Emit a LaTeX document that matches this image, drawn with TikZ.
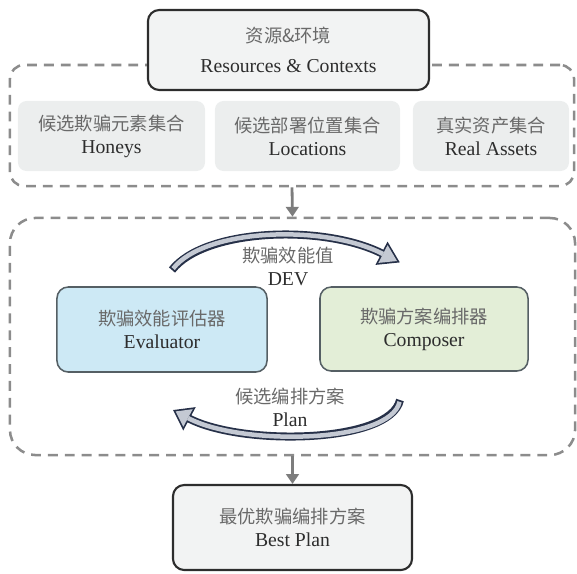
\documentclass[tikz,border=0pt]{standalone}
\usepackage{fontspec}
\setmainfont{Liberation Serif}
\newfontfamily\cjkfont{Noto Sans CJK SC}
\usetikzlibrary{positioning, arrows.meta}
\definecolor{boxline}{RGB}{45,45,45}
\definecolor{boxgray}{RGB}{242,243,243}
\definecolor{setgray}{RGB}{236,238,238}
\definecolor{modline}{RGB}{85,95,100}
\definecolor{evalblue}{RGB}{205,233,245}
\definecolor{compgreen}{RGB}{227,238,215}
\definecolor{grpgray}{RGB}{140,140,140}
\definecolor{flowgray}{RGB}{125,125,125}
\definecolor{fatdark}{RGB}{38,48,72}
\definecolor{fatlight}{RGB}{196,201,211}
\definecolor{zhgray}{RGB}{105,105,105}
\definecolor{endark}{RGB}{45,45,45}
\newcommand{\zh}[1]{{\cjkfont\fontsize{13}{16}\selectfont\color{zhgray}#1}}
\tikzset{
    mainbox/.style={draw=boxline, fill=boxgray, rounded corners=8pt, line width=1.5pt, align=center, text=endark},
    setbox/.style={fill=setgray, rounded corners=6pt, minimum height=1.75cm, align=center, text=endark},
    evalbox/.style={draw=modline, fill=evalblue, rounded corners=8pt, line width=1.1pt, minimum width=5.25cm, minimum height=2.125cm, align=center, text=endark},
    compbox/.style={draw=modline, fill=compgreen, rounded corners=8pt, line width=1.1pt, minimum width=5.2cm, minimum height=2.1cm, align=center, text=endark},
    groupbox/.style={draw=grpgray, dash pattern=on 7pt off 5pt, line width=1.8pt},
    flowarrow/.style={-{Triangle[length=7pt, width=9pt]}, draw=flowgray, line width=2pt},
    fatouter/.style={draw=fatdark, line width=5.7pt},
    fatinner/.style={draw=fatlight, line width=3.2pt},
    fathead/.style={draw=fatdark, fill=fatdark, line width=2.4pt, line join=miter},
    labeltext/.style={align=center, text=endark},
}

\begin{document}
\begin{tikzpicture}[
    x=0.025cm, y=-0.025cm,
    every node/.style={font=\fontsize{14}{16.5}\selectfont},
]
\useasboundingbox (0,0) rectangle (577,573);

% resources and the three candidate sets
\node[groupbox, rounded corners=10pt, minimum width=14.1cm, minimum height=3.025cm] (grpres) at (292,125.5) {};
\node[mainbox, minimum width=7.025cm, minimum height=2cm] (res) at (288.5,50) {\zh{资源\&环境}\\[5pt]Resources \& Contexts};
\node[setbox, minimum width=4.675cm] (honeys) at (111.5,136) {\zh{候选欺骗元素集合}\\Honeys};
\node[setbox, minimum width=4.625cm] (locs) at (307.5,136) {\zh{候选部署位置集合}\\Locations};
\node[setbox, minimum width=3.9cm] (assets) at (491,136) {\zh{真实资产集合}\\Real Assets};

% evaluator / composer loop
\node[groupbox, rounded corners=18pt, minimum width=14.125cm, minimum height=5.925cm] (grploop) at (292.5,336.5) {};
\node[evalbox] (eval) at (162,329.5) {\zh{欺骗效能评估器}\\Evaluator};
\node[compbox] (comp) at (424,329) {\zh{欺骗方案编排器}\\Composer};
\node[labeltext] (devlbl) at (288,266.5) {\zh{欺骗效能值}\\DEV};
\node[labeltext] (planlbl) at (290,407.5) {\zh{候选编排方案}\\Plan};

\coordinate (devstart) at (172,270);
\coordinate (devend) at (383,254);
\draw[fatouter] (devstart) .. controls (205,228) and (325,224) .. (devend);
\filldraw[fathead] (397,261) -- (378.4,262.9) -- (387.6,245.1) -- cycle;
\draw[fatinner, shorten <=1.3pt] (devstart) .. controls (205,228) and (325,224) .. (devend);
\fill[fatlight] (397,261) -- (378.4,262.9) -- (387.6,245.1) -- cycle;

\coordinate (planstart) at (400,400);
\coordinate (planend) at (188,418);
\draw[fatouter] (planstart) .. controls (390,444) and (240,446) .. (planend);
\filldraw[fathead] (175.7,411.4) -- (192.7,409.2) -- (183.3,426.8) -- cycle;
\draw[fatinner, shorten <=1.3pt] (planstart) .. controls (390,444) and (240,446) .. (planend);
\fill[fatlight] (175.7,411.4) -- (192.7,409.2) -- (183.3,426.8) -- cycle;

% result
\node[mainbox, minimum width=5.975cm, minimum height=2.125cm] (best) at (292.5,527.5) {\zh{最优欺骗编排方案}\\Best Plan};

\draw[flowarrow] (grpres.south) -- (grploop.north);
\draw[flowarrow] (grploop.south) -- (best.north);
\end{tikzpicture}
\end{document}
